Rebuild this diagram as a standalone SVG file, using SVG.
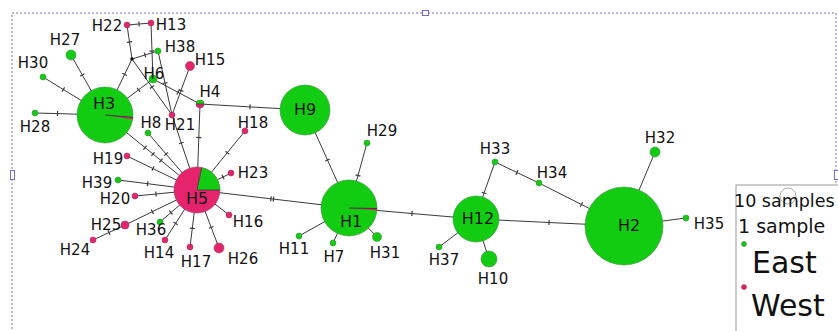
<svg xmlns="http://www.w3.org/2000/svg" width="838" height="331" viewBox="0 0 838 331">
<defs>
<style>
.e{fill:none;stroke:#3a3a3a;stroke-width:1}
.t{marker-mid:url(#tick)}
.g{fill:#12cc12;stroke:#3c8c3c;stroke-width:0.6}
.p{fill:#e6246e;stroke:#8c3c5c;stroke-width:0.6}
.gw{fill:#12cc12}
.pw{fill:#e6246e}
text{font-family:"DejaVu Sans","Liberation Sans",sans-serif;font-size:15px;fill:#111;text-anchor:middle}
.big{font-size:16px}
.lg{text-anchor:start}
.frame{fill:none;stroke:#7b68c8;stroke-width:1;stroke-dasharray:2,2}
.hd{fill:#fff;stroke:#7b68c8;stroke-width:1}
</style>
<marker id="tick" markerUnits="userSpaceOnUse" markerWidth="8" markerHeight="8" refX="4" refY="4" orient="auto">
<path d="M4,1.5 L4,6.5" stroke="#3a3a3a" stroke-width="1.2"/>
</marker>
</defs>
<rect class="frame" x="12" y="13" width="824" height="340"/>
<rect class="hd" x="422.5" y="10.5" width="6" height="5"/>
<rect class="hd" x="10.5" y="170.5" width="4" height="9"/>
<rect class="hd" x="834.5" y="170.5" width="4" height="9"/>
<g id="connectors">
<path class="e t" d="M71,55 L82.3,75 L105,115"/>
<path class="e t" d="M43,77 L63.3,89.5 L105,115"/>
<path class="e t" d="M35,113 L57.5,113.6 L105,115"/>
<path class="e t" d="M132,59 L124.6,74.4 L105,115"/>
<path class="e t" d="M153,79 L138.6,89.8 L105,115"/>
<path class="e t" d="M127,25 L139,24 L151,23"/>
<path class="e t" d="M127,25 L129.5,42 L132,59"/>
<path class="e t" d="M132,59 L145,55 L158,51"/>
<path class="e t" d="M132,59 L152,87 L172,115"/>
<path class="e t" d="M151,23 L152,51 L153,79"/>
<path class="e t" d="M153,79 L178,92.3 L200,104"/>
<path class="e t" d="M158,51 L165,83 L172,115"/>
<path class="e t" d="M190,66 L181,90.5 L172,115"/>
<path class="e t" d="M200,104 L250,106.9 L305,110"/>
<path class="e t" d="M200,104 L198.8,137.5 L197,190"/>
<path class="e t" d="M172,115 L181.3,143 L197,190"/>
<path class="e t" d="M148,133 L166,154 L197,190"/>
<path class="e t" d="M105,115 L145,147.6 L153,154 L161,160.5 L197,190"/>
<path class="e t" d="M245,131 L227.3,152.7 L197,190"/>
<path class="e t" d="M127,156 L153,168.6 L197,190"/>
<path class="e t" d="M118,180 L147.6,183.7 L197,190"/>
<path class="e t" d="M135,196 L156,194 L197,190"/>
<path class="e t" d="M125,225 L152.4,211.7 L197,190"/>
<path class="e t" d="M93,240 L109,232.5 L125,225"/>
<path class="e t" d="M160,222 L170.9,212.6 L197,190"/>
<path class="e t" d="M165,240 L175.6,223.4 L197,190"/>
<path class="e t" d="M190,247 L192.3,228.4 L197,190"/>
<path class="e t" d="M219,248 L211.2,227.4 L197,190"/>
<path class="e" d="M229,215 L197,190"/>
<path class="e t" d="M231,173 L223,177 L197,190"/>
<path class="e t" d="M197,190 L271,198.8 L273.5,199.1 L349,208"/>
<path class="e t" d="M305,110 L327.5,160 L349,208"/>
<path class="e t" d="M367,143 L358,175.5 L349,208"/>
<path class="e" d="M299,236 L349,208"/>
<path class="e" d="M333,243 L349,208"/>
<path class="e" d="M377,237 L349,208"/>
<path class="e t" d="M349,208 L412,213.5 L476,219"/>
<path class="e t" d="M476,219 L484,193 L495,162"/>
<path class="e t" d="M495,162 L517,172.5 L539,183"/>
<path class="e t" d="M539,183 L581.5,204.5 L624,226"/>
<path class="e t" d="M476,219 L549,222.5 L624,226"/>
<path class="e" d="M476,219 L439,247"/>
<path class="e" d="M476,219 L489,259"/>
<path class="e" d="M624,226 L655,152"/>
<path class="e" d="M624,226 L686,218"/>
</g>
<g id="J"><circle cx="132" cy="59" r="1.8" fill="#111"/></g>
<g id="H3"><circle class="g" cx="105" cy="115" r="28"/><path class="pw" d="M105,115 L132.9,117.4 L132.7,119.4 Z"/><line x1="105" y1="115" x2="133" y2="117.4" stroke="#3a3a3a" stroke-width="1"/><text class="big" x="104" y="109">H3</text></g>
<g id="H5"><circle class="p" cx="197" cy="190" r="23"/><path class="gw" d="M197,190 L201.8,167.5 A23,23 0 0 1 220,190 Z"/><path d="M201.8,167.5 L197,190 L220,190" fill="none" stroke="#3a3a3a" stroke-width="0.8"/><text class="big" x="197" y="204">H5</text></g>
<g id="H1"><circle class="g" cx="349" cy="208" r="28"/><path class="pw" d="M349,208 L377,208.5 L376.9,210.5 Z"/><line x1="349" y1="208" x2="377" y2="208.5" stroke="#3a3a3a" stroke-width="1"/><text class="big" x="351" y="227">H1</text></g>
<g id="H9"><circle class="g" cx="305" cy="110" r="25"/><text class="big" x="305" y="115">H9</text></g>
<g id="H12"><circle class="g" cx="476" cy="219" r="23"/><text class="big" x="478" y="224">H12</text></g>
<g id="H2"><circle class="g" cx="624" cy="226" r="39"/><text class="big" x="629" y="231">H2</text></g>
<g id="H4"><circle class="p" cx="200" cy="104" r="4"/><path class="gw" d="M196,104 A4,4 0 0 1 204,104 Z"/><line x1="196" y1="104" x2="204" y2="104" stroke="#3a3a3a" stroke-width="0.8"/><text x="210" y="97">H4</text></g>
<g id="H6"><circle class="g" cx="153" cy="79" r="4"/><text x="154" y="79">H6</text></g>
<g id="H7"><circle class="g" cx="333" cy="243" r="3"/><text x="334" y="262">H7</text></g>
<g id="H8"><circle class="g" cx="148" cy="133" r="3"/><text x="151" y="128">H8</text></g>
<g id="H10"><circle class="g" cx="489" cy="259" r="8"/><text x="493" y="284">H10</text></g>
<g id="H11"><circle class="g" cx="299" cy="236" r="3"/><text x="294" y="254">H11</text></g>
<g id="H13"><circle class="p" cx="151" cy="23" r="3"/><text x="171" y="30">H13</text></g>
<g id="H14"><circle class="p" cx="165" cy="240" r="3"/><text x="159" y="258">H14</text></g>
<g id="H15"><circle class="p" cx="190" cy="66" r="4.5"/><text x="210" y="65">H15</text></g>
<g id="H16"><circle class="p" cx="229" cy="215" r="3"/><text x="248" y="227">H16</text></g>
<g id="H17"><circle class="p" cx="190" cy="247" r="3"/><text x="196" y="267">H17</text></g>
<g id="H18"><circle class="p" cx="245" cy="131" r="3"/><text x="253" y="128">H18</text></g>
<g id="H19"><circle class="p" cx="127" cy="156" r="3"/><text x="108" y="164">H19</text></g>
<g id="H20"><circle class="p" cx="135" cy="196" r="3"/><text x="115" y="204">H20</text></g>
<g id="H21"><circle class="p" cx="172" cy="115" r="3"/><text x="180" y="130">H21</text></g>
<g id="H22"><circle class="p" cx="127" cy="25" r="3"/><text x="107" y="31">H22</text></g>
<g id="H23"><circle class="p" cx="231" cy="173" r="3"/><text x="253" y="178">H23</text></g>
<g id="H24"><circle class="p" cx="93" cy="240" r="3"/><text x="75" y="255">H24</text></g>
<g id="H25"><circle class="p" cx="125" cy="225" r="4"/><text x="106" y="230">H25</text></g>
<g id="H26"><circle class="p" cx="219" cy="248" r="5"/><text x="243" y="264">H26</text></g>
<g id="H27"><circle class="g" cx="71" cy="55" r="5"/><text x="65" y="45">H27</text></g>
<g id="H28"><circle class="g" cx="35" cy="113" r="3"/><text x="35" y="132">H28</text></g>
<g id="H29"><circle class="g" cx="367" cy="143" r="3"/><text x="382" y="136">H29</text></g>
<g id="H30"><circle class="g" cx="43" cy="77" r="3"/><text x="33" y="68">H30</text></g>
<g id="H31"><circle class="g" cx="377" cy="237" r="4.5"/><text x="385" y="258">H31</text></g>
<g id="H32"><circle class="g" cx="655" cy="152" r="5"/><text x="660" y="143">H32</text></g>
<g id="H33"><circle class="g" cx="495" cy="162" r="3"/><text x="495" y="154">H33</text></g>
<g id="H34"><circle class="g" cx="539" cy="183" r="3"/><text x="552" y="178">H34</text></g>
<g id="H35"><circle class="g" cx="686" cy="218" r="3"/><text x="709" y="229">H35</text></g>
<g id="H36"><circle class="g" cx="160" cy="222" r="3"/><text x="151" y="235">H36</text></g>
<g id="H37"><circle class="g" cx="439" cy="247" r="3"/><text x="444" y="265">H37</text></g>
<g id="H38"><circle class="g" cx="158" cy="51" r="3"/><text x="180" y="52">H38</text></g>
<g id="H39"><circle class="g" cx="118" cy="180" r="3"/><text x="97" y="188">H39</text></g>
<g id="legend">
<rect x="736" y="185" width="110" height="160" fill="#fff" stroke="#999" stroke-width="1"/>
<circle cx="788" cy="196" r="8" fill="none" stroke="#aaa" stroke-width="1"/>
<text class="lg" x="734" y="207" style="font-size:17.5px">10 samples</text>
<text class="lg" x="738" y="233" style="font-size:19px">1 sample</text>
<circle class="g" cx="744" cy="244" r="2.5"/>
<text class="lg" x="752" y="273" style="font-size:30px">East</text>
<circle class="p" cx="744" cy="287" r="2.5"/>
<text class="lg" x="751" y="316" style="font-size:30px">West</text>
</g>
</svg>
